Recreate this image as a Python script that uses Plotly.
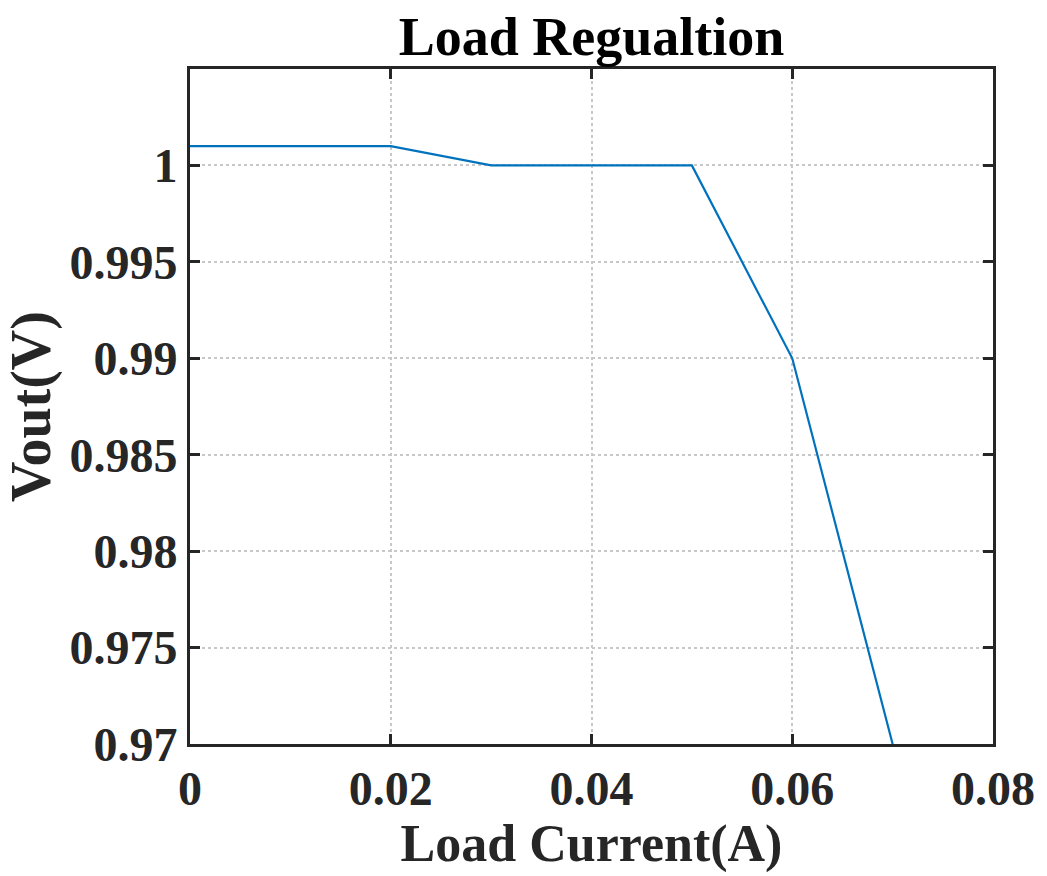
import plotly.graph_objects as go

current = [0, 0.01, 0.02, 0.03, 0.04, 0.05, 0.06, 0.07]
vout = [1.001, 1.001, 1.001, 1.000, 1.000, 1.000, 0.990, 0.970]

x_ticks = [0, 0.02, 0.04, 0.06, 0.08]
x_labels = ["0", "0.02", "0.04", "0.06", "0.08"]
y_ticks = [0.97, 0.975, 0.98, 0.985, 0.99, 0.995, 1.0]
y_labels = ["0.97", "0.975", "0.98", "0.985", "0.99", "0.995", "1"]

FONT = "Liberation Serif"
AX = "#262626"

fig = go.Figure()
fig.add_trace(go.Scatter(x=current, y=vout, mode="lines",
                         line=dict(color="#0072BD", width=2.2), showlegend=False))

axis_common = dict(
    showline=True, linecolor=AX, linewidth=3, mirror="allticks",
    ticks="inside", ticklen=10, tickwidth=3, tickcolor=AX,
    showgrid=True, gridcolor="#c8c8c8", griddash="dot", gridwidth=2,
    zeroline=False,
    tickfont=dict(family=FONT, size=48, color=AX),
)

fig.update_xaxes(range=[0, 0.08], tickvals=x_ticks, ticktext=x_labels,
                 title=dict(text="<b>Load Current(A)</b>", standoff=6,
                            font=dict(family=FONT, size=52, color=AX)),
                 **axis_common)
fig.update_yaxes(range=[0.97, 1.005], tickvals=y_ticks, ticktext=y_labels,
                 title=dict(text="<b>Vout(V)</b>", standoff=10,
                            font=dict(family=FONT, size=56, color=AX)),
                 **axis_common)
fig.update_layout(
    width=1047, height=876,
    margin=dict(l=190, r=49, t=69, b=132),
    plot_bgcolor="white", paper_bgcolor="white",
    font=dict(family=FONT, size=48, color=AX, weight="bold"),
    title=dict(text="<b>Load Regualtion</b>", x=0.5, xanchor="center",
               xref="paper", y=1, yref="paper", yanchor="bottom", pad=dict(b=14),
               font=dict(family=FONT, size=54, color="black")),
)
fig.write_html("out.html")
